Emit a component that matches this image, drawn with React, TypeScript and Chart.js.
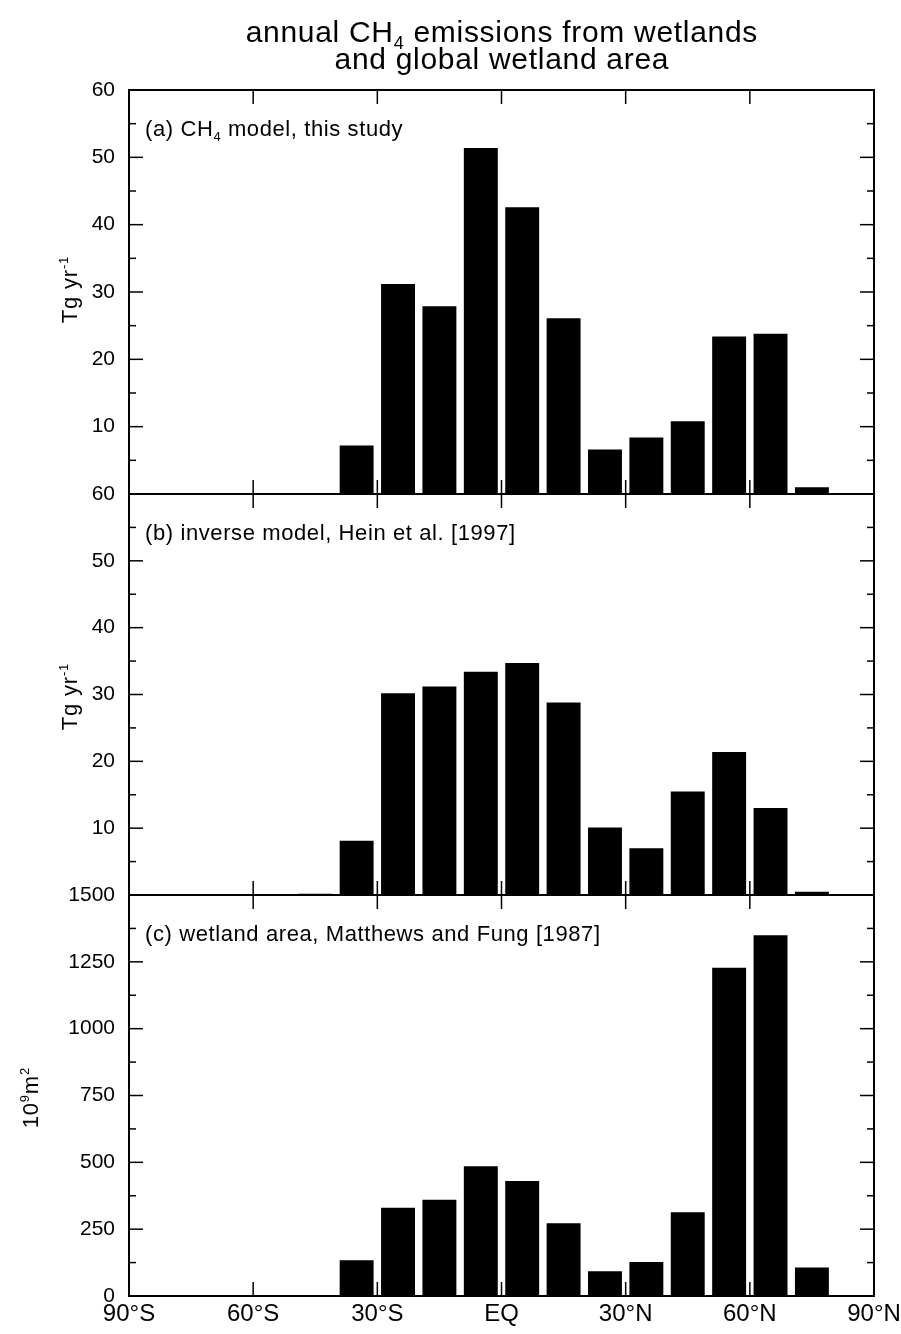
import { useEffect, useRef } from "react";
import { Chart, registerables } from "chart.js";

Chart.register(...registerables);

// 10-degree latitude bins (bin centres), south to north
const latitudeBins = [-85, -75, -65, -55, -45, -35, -25, -15, -5, 5, 15, 25, 35, 45, 55, 65, 75, 85];

// (a) CH4 model, Tg/yr
const ch4ModelTg = [0, 0, 0, 0, 0, 7.2, 31.2, 27.9, 51.4, 42.6, 26.1, 6.6, 8.4, 10.8, 23.4, 23.8, 1.0, 0];
// (b) inverse model, Hein et al. [1997], Tg/yr
const inverseModelTg = [0, 0, 0, 0, 0.2, 8.1, 30.2, 31.2, 33.4, 34.7, 28.8, 10.1, 7.0, 15.5, 21.4, 13.0, 0.5, 0];
// (c) wetland area, Matthews and Fung [1987], 10^9 m^2
const wetlandArea = [0, 0, 0, 0, 4, 134, 330, 360, 485, 430, 272, 93, 127, 313, 1228, 1349, 107, 0];

const latitudeTicks = [-90, -60, -30, 0, 30, 60, 90];
const latitudeTickLabels = ["90°S", "60°S", "30°S", "EQ", "30°N", "60°N", "90°N"];

const FONT = "'Liberation Sans', Arial, Helvetica, sans-serif";
Chart.defaults.font.family = FONT;
Chart.defaults.color = "#000";

type Run = { text: string; shift?: "sub" | "sup" };

const titleLine1: Run[] = [{ text: "annual CH" }, { text: "4", shift: "sub" }, { text: " emissions from wetlands" }];
const titleLine2: Run[] = [{ text: "and global wetland area" }];

interface PanelDef {
  id: string;
  values: number[];
  yMax: number;
  yStep: number;
  hideZero: boolean;
  label: Run[];
  yTitle: Run[];
  yTitleX: number;
  yTitleCenter: number;
  canvasTop: number;
  canvasHeight: number;
  plotTop: number;
  plotBottom: number;
  showX: boolean;
  withTitle: boolean;
}

const panels: PanelDef[] = [
  {
    id: "a",
    values: ch4ModelTg,
    yMax: 60,
    yStep: 10,
    hideZero: true,
    label: [{ text: "(a) CH" }, { text: "4", shift: "sub" }, { text: " model, this study" }],
    yTitle: [{ text: "Tg yr" }, { text: "-1", shift: "sup" }],
    yTitleX: 77,
    yTitleCenter: 290,
    canvasTop: 0,
    canvasHeight: 520,
    plotTop: 90,
    plotBottom: 494,
    showX: false,
    withTitle: true,
  },
  {
    id: "b",
    values: inverseModelTg,
    yMax: 60,
    yStep: 10,
    hideZero: true,
    label: [{ text: "(b) inverse model, Hein et al. [1997]" }],
    yTitle: [{ text: "Tg yr" }, { text: "-1", shift: "sup" }],
    yTitleX: 77,
    yTitleCenter: 697,
    canvasTop: 470,
    canvasHeight: 450,
    plotTop: 494,
    plotBottom: 895,
    showX: false,
    withTitle: false,
  },
  {
    id: "c",
    values: wetlandArea,
    yMax: 1500,
    yStep: 250,
    hideZero: false,
    label: [{ text: "(c) wetland area, Matthews and Fung [1987]" }],
    yTitle: [{ text: "10" }, { text: "9", shift: "sup" }, { text: "m" }, { text: "2", shift: "sup" }],
    yTitleX: 38,
    yTitleCenter: 1098,
    canvasTop: 870,
    canvasHeight: 464,
    plotTop: 895,
    plotBottom: 1296,
    showX: true,
    withTitle: false,
  },
];

const X_LABEL_SPACE = 38;
const RIGHT_MARGIN = 27;
const LEFT_AXIS = 129;

function runFont(size: number, shift?: string) {
  const s = shift ? Math.round(size * 0.6) : size;
  return `${s}px ${FONT}`;
}

function runsWidth(ctx: CanvasRenderingContext2D, runs: Run[], size: number, spacing: number) {
  let w = 0;
  for (const r of runs) {
    ctx.font = runFont(size, r.shift);
    for (const ch of r.text) w += ctx.measureText(ch).width + spacing;
  }
  return w - spacing;
}

function drawRuns(
  ctx: CanvasRenderingContext2D,
  runs: Run[],
  x: number,
  y: number,
  size: number,
  spacing: number,
  align: "left" | "center"
) {
  const w = runsWidth(ctx, runs, size, spacing);
  let cx = align === "center" ? x - w / 2 : x;
  ctx.textAlign = "left";
  ctx.textBaseline = "alphabetic";
  for (const r of runs) {
    ctx.font = runFont(size, r.shift);
    const dy = r.shift === "sub" ? size * 0.22 : r.shift === "sup" ? -size * 0.42 : 0;
    for (const ch of r.text) {
      ctx.fillText(ch, cx, y + dy);
      cx += ctx.measureText(ch).width + spacing;
    }
  }
}

function line(ctx: CanvasRenderingContext2D, x1: number, y1: number, x2: number, y2: number) {
  ctx.beginPath();
  ctx.moveTo(x1, y1);
  ctx.lineTo(x2, y2);
  ctx.stroke();
}

function decorPlugin(panel: PanelDef) {
  return {
    id: "panelDecor",
    afterDatasetsDraw(chart: Chart) {
      const { ctx, chartArea } = chart;
      const { left, right, top, bottom } = chartArea;
      const x = chart.scales.x;
      const y = chart.scales.y;
      ctx.save();
      ctx.strokeStyle = "#000";
      ctx.fillStyle = "#000";

      // frame
      ctx.lineWidth = 2;
      ctx.strokeRect(left, top, right - left, bottom - top);

      // inward y ticks, major and minor, on both sides
      ctx.lineWidth = 1.5;
      const majors = y.ticks.map((t) => t.value);
      majors.forEach((v, i) => {
        const py = y.getPixelForValue(v);
        line(ctx, left, py, left + 14, py);
        line(ctx, right, py, right - 14, py);
        if (i < majors.length - 1) {
          const pm = y.getPixelForValue((v + majors[i + 1]) / 2);
          line(ctx, left, pm, left + 7, pm);
          line(ctx, right, pm, right - 7, pm);
        }
      });

      // inward latitude ticks on top and bottom edges
      latitudeTicks.slice(1, -1).forEach((v) => {
        const px = x.getPixelForValue(v);
        line(ctx, px, top, px, top + 14);
        line(ctx, px, bottom, px, bottom - 14);
      });

      // panel label
      drawRuns(ctx, panel.label, left + 16, top + 46, 22, 0.6, "left");

      // rotated y-axis title
      ctx.save();
      ctx.translate(panel.yTitleX, panel.yTitleCenter - panel.canvasTop);
      ctx.rotate(-Math.PI / 2);
      drawRuns(ctx, panel.yTitle, 0, 0, 22, 0.8, "center");
      ctx.restore();

      // main title
      if (panel.withTitle) {
        const cx = (left + right) / 2;
        drawRuns(ctx, titleLine1, cx, 42, 30, 0.7, "center");
        drawRuns(ctx, titleLine2, cx, 69, 30, 0.7, "center");
      }
      ctx.restore();
    },
  };
}

function Panel({ panel }: { panel: PanelDef }) {
  const ref = useRef<HTMLCanvasElement>(null);

  useEffect(() => {
    const canvas = ref.current;
    if (!canvas) return;
    const xSpace = panel.showX ? X_LABEL_SPACE : 0;
    const padTop = panel.plotTop - panel.canvasTop;
    const padBottom = panel.canvasTop + panel.canvasHeight - panel.plotBottom - xSpace;

    const chart = new Chart(canvas, {
      type: "bar",
      data: {
        datasets: [
          {
            data: latitudeBins.map((lat, i) => ({ x: lat, y: panel.values[i] })),
            backgroundColor: "#000",
            borderWidth: 0,
            barPercentage: 0.82,
            categoryPercentage: 1,
          },
        ],
      },
      options: {
        animation: false,
        responsive: false,
        devicePixelRatio: 1,
        layout: { padding: { top: padTop, bottom: padBottom, left: 0, right: RIGHT_MARGIN } },
        plugins: {
          legend: { display: false },
          tooltip: { enabled: false },
          title: { display: false },
        },
        scales: {
          x: {
            type: "linear",
            min: -90,
            max: 90,
            display: panel.showX,
            offset: false,
            grid: { display: false, drawTicks: false, tickLength: 0 },
            border: { display: false },
            ticks: {
              autoSkip: false,
              maxRotation: 0,
              minRotation: 0,
              padding: 4,
              color: "#000",
              font: { size: 24 },
              callback: (v: any) => {
                const i = latitudeTicks.indexOf(Number(v));
                return i >= 0 ? latitudeTickLabels[i] : "";
              },
            },
            afterBuildTicks: (s: any) => {
              s.ticks = latitudeTicks.map((v) => ({ value: v }));
            },
            afterFit: (s: any) => {
              s.height = xSpace;
              s.paddingLeft = 0;
              s.paddingRight = 0;
            },
          },
          y: {
            type: "linear",
            min: 0,
            max: panel.yMax,
            grid: { display: false, drawTicks: false, tickLength: 0 },
            border: { display: false },
            ticks: {
              stepSize: panel.yStep,
              autoSkip: false,
              padding: 14,
              color: "#000",
              font: { size: 21 },
              callback: (v: any) => (panel.hideZero && Number(v) === 0 ? "" : String(v)),
            },
            afterFit: (s: any) => {
              s.width = LEFT_AXIS;
              s.paddingTop = 0;
              s.paddingBottom = 0;
            },
          },
        },
      },
      plugins: [decorPlugin(panel)],
    });
    return () => chart.destroy();
  }, [panel]);

  return (
    <canvas
      ref={ref}
      width={901}
      height={panel.canvasHeight}
      style={{ position: "absolute", left: 0, top: panel.canvasTop, width: 901, height: panel.canvasHeight }}
    />
  );
}

export default function App() {
  return (
    <div style={{ position: "absolute", left: 0, top: 0, width: 901, height: 1334, background: "#fff" }}>
      {panels.map((p) => (
        <Panel key={p.id} panel={p} />
      ))}
    </div>
  );
}
